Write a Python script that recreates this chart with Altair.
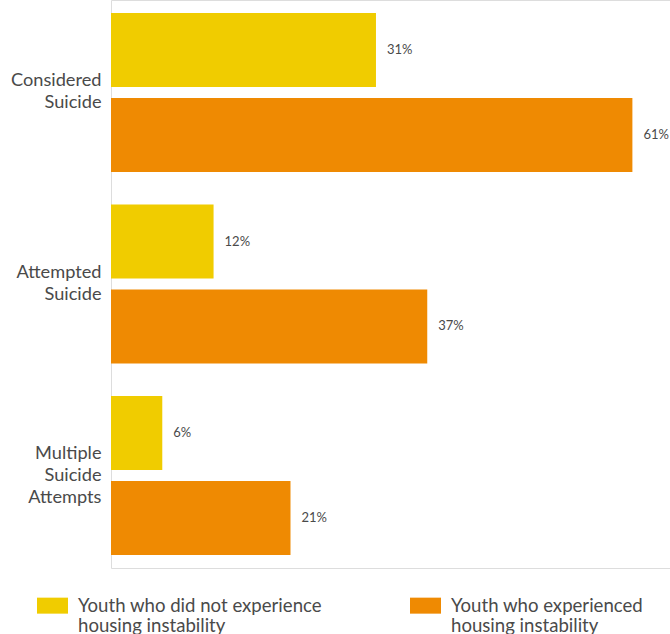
import altair as alt
import pandas as pd

categories = ["Considered Suicide", "Attempted Suicide", "Multiple Suicide Attempts"]
series = [
    "Youth who did not experience housing instability",
    "Youth who experienced housing instability",
]
no_instability = [31, 12, 6]
instability = [61, 37, 21]
colors = ["#F0CC00", "#EF8A02"]

rows = []
for i, c in enumerate(categories):
    rows.append({"category": c, "group": series[0], "order": 0, "value": no_instability[i]})
    rows.append({"category": c, "group": series[1], "order": 1, "value": instability[i]})
df = pd.DataFrame(rows)
df["label"] = df["value"].astype(str) + "%"

FONT = "Lato"
TXT = "#4a4a4a"

y_enc = alt.Y(
    "category:N",
    sort=categories,
    scale=alt.Scale(paddingInner=0.17, paddingOuter=0.068),
    axis=alt.Axis(
        title=None, domain=False, ticks=False, labelPadding=10,
        labelFont=FONT, labelFontSize=18.2, labelColor=TXT, labelLineHeight=22,
        labelExpr="split(datum.label, ' ')", labelLimit=300,
        labelOffset={"condition": {"test": "length(split(datum.value, ' ')) > 2", "value": -22}, "value": -11},
    ),
)
yoff = alt.YOffset("group:N", sort=series, scale=alt.Scale(paddingInner=0.129, paddingOuter=0))
x_enc = alt.X("value:Q", scale=alt.Scale(domain=[0, 65.4], nice=False), axis=None)

bars = alt.Chart(df).mark_bar().encode(
    y=y_enc,
    yOffset=yoff,
    x=x_enc,
    color=alt.Color(
        "group:N", sort=series,
        scale=alt.Scale(domain=series, range=colors),
        legend=alt.Legend(
            title=None, orient="none", legendX=-74, legendY=590,
            direction="horizontal", columns=2, columnPadding=88,
            symbolType="M-1,-0.516L1,-0.516L1,0.516L-1,0.516Z", symbolSize=961,
            symbolStrokeWidth=0, symbolOpacity=1,
            labelFont=FONT, labelFontSize=18.6, labelColor=TXT,
            labelBaseline="middle", labelOffset=10, labelLimit=400, padding=0,
            labelExpr="[slice(datum.label, 0, indexof(datum.label, ' housing')), slice(datum.label, indexof(datum.label, ' housing') + 1)]",
        ),
    ),
)

labels = alt.Chart(df).mark_text(
    align="left", baseline="middle", dx=11, font=FONT, fontSize=13, color=TXT
).encode(y=y_enc, yOffset=yoff, x=x_enc, text="label:N")

chart = (
    alt.layer(bars, labels)
    .properties(
        width=559, height=568,
        autosize=alt.AutoSizeParams(type="none"),
        padding={"left": 111, "top": 0, "right": 0, "bottom": 66},
    )
    .configure_view(stroke=None)
    .configure(background="white")
)

chart.save("out.html", embed_options={"renderer": "svg", "actions": False})
